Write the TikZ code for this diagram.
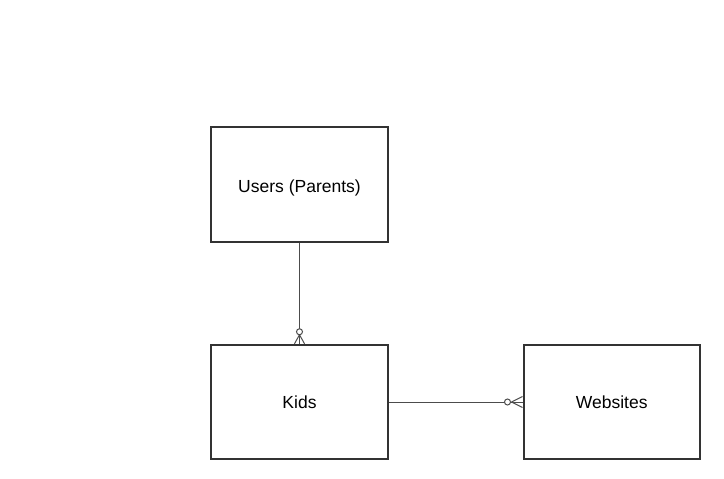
\documentclass[tikz,border=0pt]{standalone}
\usepackage{fontspec}
\setmainfont{Liberation Sans}
\usetikzlibrary{calc}
\begin{document}
\begin{tikzpicture}[x=1pt,y=-1pt,
  entity/.style={draw=black!80,line width=2pt,minimum width=176.5pt,minimum height=114.5pt,
    inner sep=0pt,font=\fontsize{17.5}{20}\selectfont,text height=12.5pt,text depth=0pt},
  conn/.style={draw=black!70,line width=1pt},
  ring/.style={draw=black!70,line width=1pt,fill=white}]
\useasboundingbox (0,0) rectangle (724,479);
\node[entity,text height=15.5pt] (users) at (299.5,184.5) {Users (Parents)};
\node[entity] (kids) at (299.5,402) {Kids};
\node[entity] (web) at (611.75,402) {Websites};
% Users -> Kids (zero or many)
\draw[conn] (users.south) -- (kids.north);
\coordinate (f1) at ($(kids.north)+(0,-9)$);
\draw[conn] (f1) -- ($(kids.north)+(-5,0)$);
\draw[conn] (f1) -- ($(kids.north)+(5,0)$);
\node[ring,circle,minimum size=6pt,inner sep=0pt] (c1) at ($(kids.north)+(0,-12)$) {};
% Kids -> Websites (zero or many)
\draw[conn] (kids.east) -- (web.west);
\coordinate (f2) at ($(web.west)+(-11,0)$);
\draw[conn] (f2) -- ($(web.west)+(0,-5.5)$);
\draw[conn] (f2) -- ($(web.west)+(0,5.5)$);
\node[ring,circle,minimum size=6pt,inner sep=0pt] (c2) at ($(web.west)+(-15,0)$) {};
\end{tikzpicture}
\end{document}
